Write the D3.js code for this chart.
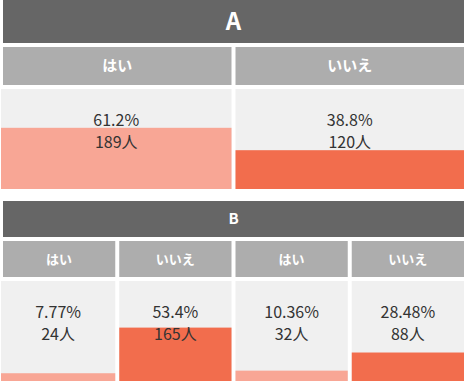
<!DOCTYPE html>
<html><head><meta charset="utf-8">
<script src="https://cdn.jsdelivr.net/npm/d3@7"></script>
<style>body{margin:0;background:#fff}svg{display:block}</style>
</head><body>
<script>
const sectionA = "A";
const sectionB = "B";
const labelsA = ["はい", "いいえ"];
const pctA = [61.2, 38.8];
const countA = [189, 120];
const pctLabelsA = ["61.2%", "38.8%"];
const labelsB = ["はい", "いいえ", "はい", "いいえ"];
const pctB = [7.77, 53.4, 10.36, 28.48];
const countB = [24, 165, 32, 88];
const pctLabelsB = ["7.77%", "53.4%", "10.36%", "28.48%"];

const W = 468, H = 381;
const font = "'Noto Sans CJK JP','Noto Sans',sans-serif";
const svg = d3.select("body").append("svg").attr("width", W).attr("height", H);

const colorFor = l => l === "はい" ? "#f8a695" : "#f26d4d";

function section(cfg) {
  const n = cfg.labels.length;
  const x = d3.scaleBand().domain(d3.range(n)).range([3, 464]).paddingInner(4 / (461 + 4) * n / (n - 1) * (n - 1) / n);
  // exact gap 4px between bands
  const step = (461 + 4) / n;
  x.paddingInner(4 / step);
  const y = d3.scaleLinear().domain([0, 100]).range([cfg.cellTop + cfg.cellH, cfg.cellTop]);
  const g = svg.append("g");
  g.append("rect").attr("x", 3).attr("y", cfg.top).attr("width", 461).attr("height", cfg.headH).attr("fill", "#666666");
  g.append("text").attr("x", 233.5).attr("y", cfg.top + cfg.headH / 2).attr("dy", "0.36em")
    .attr("text-anchor", "middle").attr("fill", "#fff").attr("font-weight", "bold")
    .attr("font-size", cfg.titleSize).attr("font-family", font).text(cfg.title);
  const cols = g.selectAll("g.col").data(cfg.labels.map((l, i) => ({l, i, p: cfg.pct[i], c: cfg.count[i], pl: cfg.pctLabels[i]})))
    .join("g").attr("class", "col");
  cols.append("rect").attr("x", d => x(d.i)).attr("y", cfg.subTop).attr("width", x.bandwidth()).attr("height", cfg.subH).attr("fill", "#adadad");
  cols.append("text").attr("x", d => x(d.i) + x.bandwidth() / 2).attr("y", cfg.subTop + cfg.subH / 2).attr("dy", "0.36em")
    .attr("text-anchor", "middle").attr("fill", "#fff").attr("font-weight", "bold").attr("font-size", cfg.subSize)
    .attr("font-family", font).text(d => d.l);
  const cx = d => d.i === 0 ? 1 : x(d.i);
  const cw = d => d.i === 0 ? x.bandwidth() + x(0) - 1 : x.bandwidth();
  cols.append("rect").attr("x", cx).attr("y", cfg.cellTop).attr("width", cw).attr("height", cfg.cellH).attr("fill", "#f0f0f0");
  cols.append("rect").attr("x", cx).attr("y", d => y(d.p)).attr("width", cw).attr("height", d => y(0) - y(d.p)).attr("fill", d => colorFor(d.l));
  cols.append("text").attr("x", d => cx(d) + cw(d) / 2).attr("y", cfg.cellTop + 37).attr("text-anchor", "middle")
    .attr("fill", "#333").attr("font-size", 16).attr("font-family", font).text(d => d.pl);
  cols.append("text").attr("x", d => cx(d) + cw(d) / 2).attr("y", cfg.cellTop + 59).attr("text-anchor", "middle")
    .attr("fill", "#333").attr("font-size", 16).attr("font-family", font).text(d => d.c + "人");
}

section({title: sectionA, labels: labelsA, pct: pctA, count: countA, pctLabels: pctLabelsA,
  top: 0, headH: 43, titleSize: 24, subTop: 47, subH: 38, subSize: 15, cellTop: 89, cellH: 100});
section({title: sectionB, labels: labelsB, pct: pctB, count: countB, pctLabels: pctLabelsB,
  top: 201, headH: 36, titleSize: 15, subTop: 241, subH: 36, subSize: 13, cellTop: 281, cellH: 100});
</script>
</body></html>
